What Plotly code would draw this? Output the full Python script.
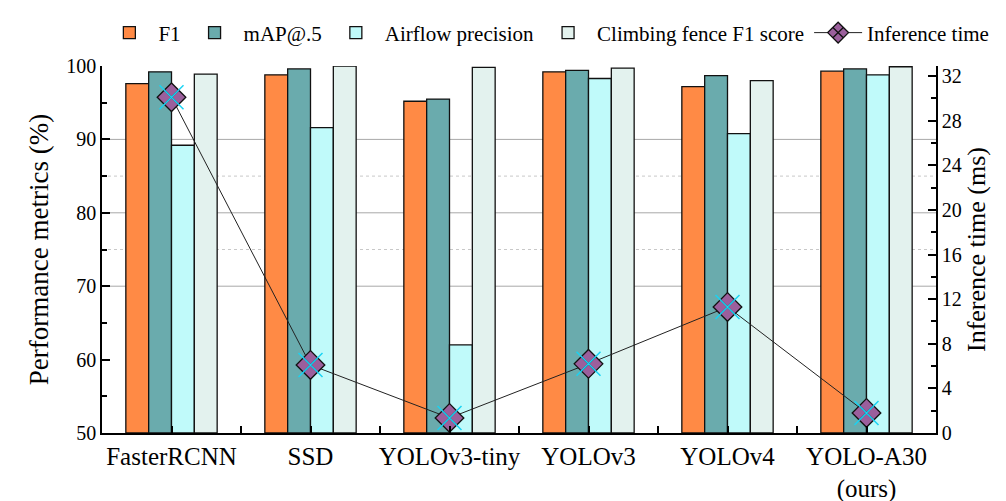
import plotly.graph_objects as go

categories = ["FasterRCNN", "SSD", "YOLOv3-tiny", "YOLOv3", "YOLOv4", "YOLO-A30<br>(ours)"]
f1 = [97.6, 98.8, 95.2, 99.2, 97.2, 99.3]
map50 = [99.2, 99.6, 95.5, 99.4, 98.7, 99.6]
airflow_precision = [89.2, 91.6, 62.0, 98.3, 90.8, 98.8]
climbing_f1 = [98.9, 100.0, 99.8, 99.7, 98.0, 99.9]
inference_time = [30.1, 6.1, 1.35, 6.2, 11.3, 1.8]

y_ticks = [50, 60, 70, 80, 90, 100]
y2_ticks = [0, 4, 8, 12, 16, 20, 24, 28, 32]

xpos = list(range(len(categories)))
FONT = "Liberation Serif, Times New Roman, serif"

fig = go.Figure()
bar_specs = [
    ("F1", f1, "#FF8A45"),
    ("mAP@.5", map50, "#6AABAD"),
    ("Airflow precision", airflow_precision, "#C0FAFA"),
    ("Climbing fence F1 score", climbing_f1, "#E3F2EE"),
]
for name, vals, col in bar_specs:
    fig.add_trace(go.Bar(
        x=xpos, y=[v - 50 for v in vals], base=50, name=name,
        marker=dict(color=col, line=dict(color="#111111", width=1.3)),
    ))

fig.add_trace(go.Scatter(
    x=xpos, y=inference_time, yaxis="y2", name="Inference time",
    mode="lines+markers",
    line=dict(color="#222222", width=1),
    marker=dict(symbol="diamond-x", size=22, color="#9B5F9C",
                line=dict(color="#111111", width=1.3)),
))
fig.add_trace(go.Scatter(
    x=xpos, y=inference_time, yaxis="y2", showlegend=False,
    mode="markers", hoverinfo="skip",
    marker=dict(symbol="x-thin-open", size=24,
                line=dict(color="#111111", width=1.5)),
))

shapes = []
for g in [70, 80, 90]:
    shapes.append(dict(type="line", xref="paper", x0=0, x1=1, yref="y", y0=g, y1=g,
                       line=dict(color="#A8A8A8", width=1), layer="below"))
for g in [75, 85]:
    shapes.append(dict(type="line", xref="paper", x0=0, x1=1, yref="y", y0=g, y1=g,
                       line=dict(color="#C8C8C8", width=1, dash="dot"), layer="below"))

fig.update_layout(
    width=1006, height=501,
    margin=dict(l=102, r=63, t=58, b=68),
    paper_bgcolor="white", plot_bgcolor="white",
    font=dict(family=FONT, color="black", size=20),
    barmode="group", bargap=0.343, bargroupgap=0,
    shapes=shapes,
    showlegend=True,
    legend=dict(orientation="h", x=1.07, xanchor="right", y=1.09, yanchor="middle",
                font=dict(family=FONT, size=21, color="black"),
                itemwidth=48,
                bgcolor="rgba(0,0,0,0)", traceorder="normal"),
    xaxis=dict(range=[-0.5, 5.5], tickvals=xpos, ticktext=categories, automargin=False,
               showline=True, linecolor="black", linewidth=1.5,
               ticks="inside", ticklen=7, tickwidth=1.5, tickcolor="black",
               minor=dict(tickvals=[i + 0.5 for i in xpos[:-1]], ticks="inside",
                          ticklen=7, tickwidth=1.5, tickcolor="black"),
               showgrid=False, zeroline=False,
               tickfont=dict(family=FONT, size=25)),
    yaxis=dict(range=[50, 100], tickvals=y_ticks, automargin=False,
               showline=True, linecolor="black", linewidth=1.5,
               ticks="inside", ticklen=8, tickwidth=1.5, tickcolor="black",
               minor=dict(dtick=5, ticks="inside", ticklen=5, tickwidth=1.5, tickcolor="black"),
               showgrid=False, zeroline=False,
               tickfont=dict(family=FONT, size=20),
               title=dict(text="Performance metrics (%)", font=dict(family=FONT, size=27), standoff=10)),
    yaxis2=dict(range=[0, 32.9], tickvals=y2_ticks, overlaying="y", side="right", automargin=False,
                showline=True, linecolor="black", linewidth=1.5,
                ticks="inside", ticklen=8, tickwidth=1.5, tickcolor="black",
                minor=dict(dtick=2, ticks="inside", ticklen=5, tickwidth=1.5, tickcolor="black"),
                showgrid=False, zeroline=False,
                tickfont=dict(family=FONT, size=20),
                title=dict(text="Inference time (ms)", font=dict(family=FONT, size=26), standoff=2)),
)

fig.write_html("out.html")
